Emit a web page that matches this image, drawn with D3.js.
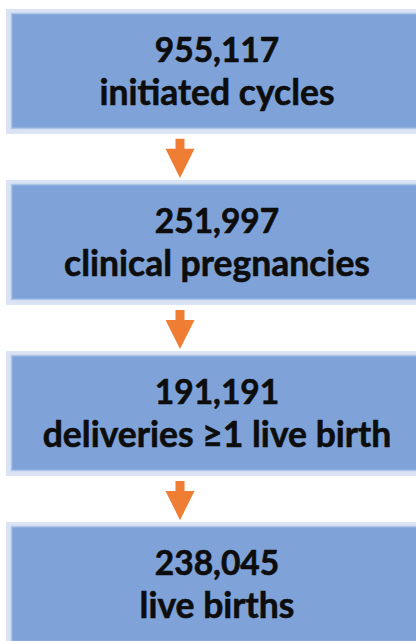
<!DOCTYPE html>
<html>
<head>
<meta charset="utf-8">
<script src="https://cdn.jsdelivr.net/npm/d3@7"></script>
<style>
  html, body { margin: 0; padding: 0; background: #fff; overflow: hidden; }
  svg { display: block; }
</style>
</head>
<body>
<svg></svg>
<script>
const w = 416;
const h = 641;

// flow stages, top to bottom
const counts = [955117, 251997, 191191, 238045];
const labels = ['initiated cycles', 'clinical pregnancies', 'deliveries ≥1 live birth', 'live births'];

const svg = d3.select('svg').attr('width', w).attr('height', h);

const y = d3.scaleBand()
  .domain(d3.range(counts.length))
  .range([9, 647])
  .paddingInner(0.27)
  .paddingOuter(0);

const boxLeft = 6;
const boxRight = 428;
const textX = 217;
const arrowX = 180;
const fmt = d3.format(',');

const boxes = svg.selectAll('.box')
  .data(counts)
  .enter()
  .append('g')
  .attr('class', 'box')
  .attr('transform', (d, i) => `translate(0,${y(i)})`);

// pale outer frame
boxes.append('rect')
  .attr('x', boxLeft)
  .attr('y', 0)
  .attr('width', boxRight - boxLeft)
  .attr('height', y.bandwidth())
  .attr('fill', '#d9e3f4');

// main fill
boxes.append('rect')
  .attr('x', boxLeft + 5.5)
  .attr('y', 4.5)
  .attr('width', boxRight - boxLeft - 11)
  .attr('height', y.bandwidth() - 10)
  .attr('fill', '#7fa3d8')
  .attr('stroke', '#aec3e8')
  .attr('stroke-width', 1.5);

boxes.append('text')
  .attr('x', textX)
  .attr('y', 53)
  .attr('text-anchor', 'middle')
  .style('font-family', 'Lato, sans-serif')
  .style('font-weight', 'bold')
  .style('font-size', '33.5px')
  .style('stroke', '#0d0d0d')
  .style('stroke-width', '0.6px')
  .attr('fill', '#0d0d0d')
  .text(d => fmt(d));

boxes.append('text')
  .attr('x', textX)
  .attr('y', 96)
  .attr('text-anchor', 'middle')
  .style('font-family', 'Lato, sans-serif')
  .style('font-weight', 'bold')
  .style('font-size', '35.5px')
  .style('stroke', '#0d0d0d')
  .style('stroke-width', '0.6px')
  .attr('fill', '#0d0d0d')
  .text((d, i) => labels[i]);

// orange arrows between boxes
const arrowPath = (top, bottom) => {
  const headTop = top + 10;
  return `M${arrowX - 4.5},${top} L${arrowX + 4.5},${top} L${arrowX + 4.5},${headTop}` +
    ` L${arrowX + 14.5},${headTop} L${arrowX},${bottom} L${arrowX - 14.5},${headTop}` +
    ` L${arrowX - 4.5},${headTop} Z`;
};

svg.selectAll('.arrow')
  .data(d3.range(counts.length - 1))
  .enter()
  .append('path')
  .attr('class', 'arrow')
  .attr('d', i => arrowPath(y(i) + y.bandwidth() + 5, y(i + 1) - 2))
  .attr('fill', '#ef7d33');
</script>
</body>
</html>
